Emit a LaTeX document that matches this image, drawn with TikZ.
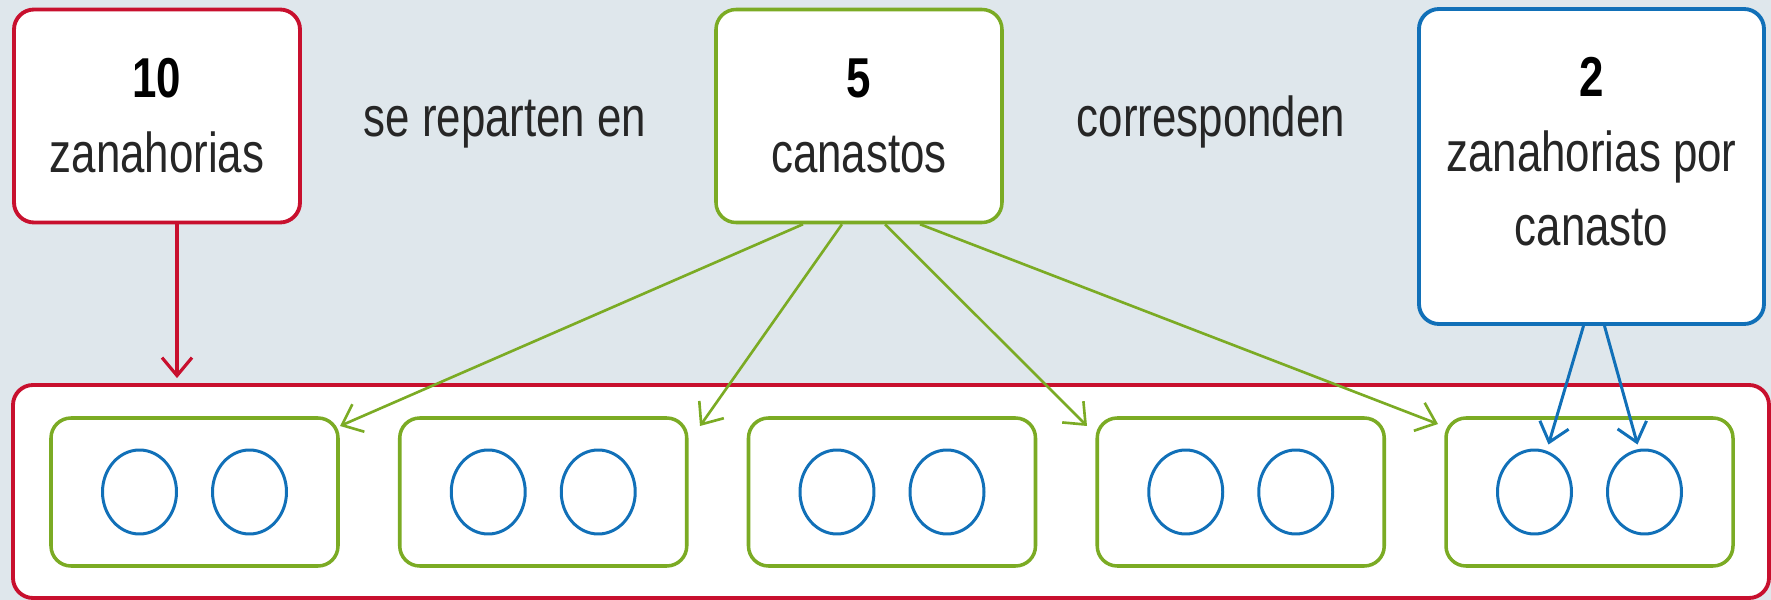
\documentclass[tikz,border=0pt]{standalone}
\usepackage{fontspec}
\setmainfont{Liberation Sans}[FakeStretch=0.78]
\usetikzlibrary{arrows.meta,shapes.geometric}
\definecolor{fondo}{HTML}{DFE7EC}
\definecolor{rojo}{HTML}{C8102E}
\definecolor{verde}{HTML}{7BAB24}
\definecolor{azul}{HTML}{1170B8}
\colorlet{letra}{black!85}
\tikzset{
    caja/.style={draw, line width=1.1pt, fill=white, rounded corners=0.2cm,
        align=center, text=letra, minimum width=2.86cm, minimum height=2.13cm},
    canasta/.style={draw=verde, line width=1pt, fill=white, rounded corners=0.2cm,
        minimum width=2.87cm, minimum height=1.48cm},
    zanahoria/.style={draw=azul, line width=0.85pt, ellipse, inner sep=0pt,
        minimum width=0.74cm, minimum height=0.84cm},
    flecha/.style={-{Straight Barb[length=1.8mm,width=3mm]}, line width=0.75pt},
}

\begin{document}
\begin{tikzpicture}[font=\fontsize{16}{21.3}\selectfont]
    \fill[fondo] (0,0) rectangle (17.71,6);
    \useasboundingbox (0,0) rectangle (17.71,6);
    % cajas de arriba
    \node[caja, draw=rojo] (diez) at (1.57,4.84) {\textcolor{black}{\textbf{10}}\\zanahorias};
    \node[caja, draw=verde, line width=1pt] (cinco) at (8.59,4.84) {\textcolor{black}{\textbf{5}}\\canastos};
    \node[caja, draw=azul, minimum width=3.45cm, minimum height=3.15cm, text depth=0.3cm] (dos) at (15.915,4.335)
        {\textcolor{black}{\textbf{2}}\\zanahorias por\\canasto};
    \node[anchor=base, text=letra] (reparten) at (5.05,4.63) {se reparten en};
    \node[anchor=base, text=letra] (corresp) at (12.11,4.63) {corresponden};
    % grupo de canastos
    \node[draw=rojo, line width=1.1pt, fill=white, rounded corners=0.2cm,
        minimum width=17.56cm, minimum height=2.13cm] (grupo) at (8.91,1.085) {};
    \foreach \i in {1,...,5}{
        \pgfmathsetmacro{\xc}{1.945+3.4875*(\i-1)}
        \node[canasta] (c\i) at (\xc,1.08) {};
        \node[zanahoria] (z\i1) at (\xc-0.55,1.08) {};
        \node[zanahoria] (z\i2) at (\xc+0.55,1.08) {};
    }
    % flechas
    \coordinate (rsal) at ([xshift=0.2cm]diez.south);
    \draw[flecha, rojo, line width=0.9pt, shorten >=0.05cm] (rsal) -- (rsal |- grupo.north);
    \coordinate (v1) at (3.40,1.74);
    \coordinate (v2) at (7.00,1.74);
    \coordinate (v3) at (10.87,1.74);
    \coordinate (v4) at (14.38,1.76);
    \draw[flecha, verde] ([xshift=-0.56cm]cinco.south) -- (v1);
    \draw[flecha, verde] ([xshift=-0.17cm]cinco.south) -- (v2);
    \draw[flecha, verde] ([xshift=0.26cm]cinco.south) -- (v3);
    \draw[flecha, verde] ([xshift=0.61cm]cinco.south) -- (v4);
    \coordinate (b1) at ([xshift=0.14cm,yshift=0.04cm]z51.north);
    \coordinate (b2) at ([xshift=-0.07cm,yshift=0.04cm]z52.north);
    \draw[flecha, azul, line width=0.85pt] ([xshift=-0.08cm]dos.south) -- (b1);
    \draw[flecha, azul, line width=0.85pt] ([xshift=0.13cm]dos.south) -- (b2);
\end{tikzpicture}
\end{document}
